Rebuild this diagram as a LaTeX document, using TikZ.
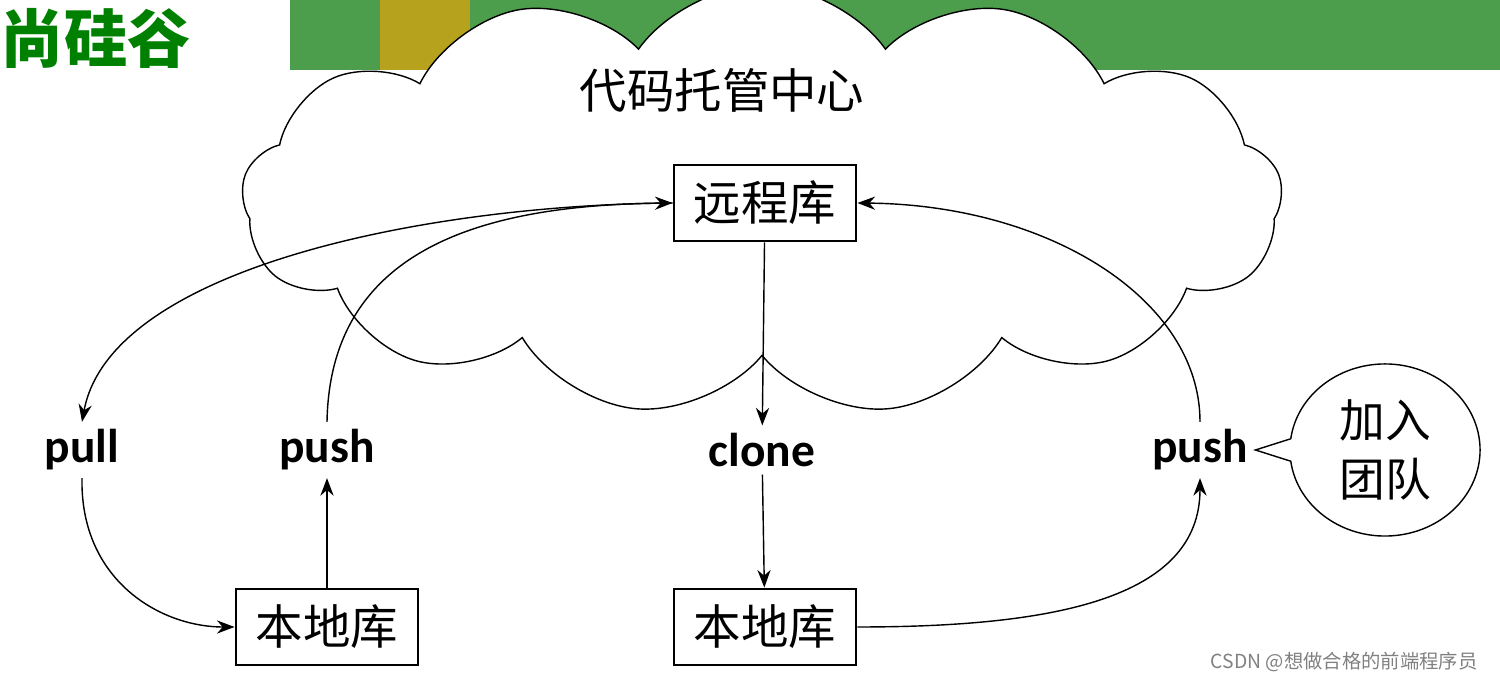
\documentclass[tikz,border=0pt]{standalone}
\usepackage{fontspec}
\setmainfont{Carlito}
\newfontfamily\cjk{Noto Sans CJK SC}
\usetikzlibrary{shapes, shapes.symbols, shapes.callouts, arrows.meta, positioning}

\begin{document}
\begin{tikzpicture}[x=0.01cm, y=-0.01cm,
    repo/.style={rectangle, draw, thick, fill=white, minimum width=1.82cm, minimum height=0.76cm, font=\cjk\fontsize{13.5}{15}\selectfont},
    verb/.style={font=\bfseries\fontsize{13.5}{15}\selectfont, inner sep=2pt},
    flow/.style={-{Stealth[length=5pt]}, thin}
 ]
\useasboundingbox (0,0) rectangle (1500,683);
% banner
\fill[green!45!black!70] (290,0) rectangle (1500,70);
\fill[orange!70!yellow, opacity=0.6] (380,0) rectangle (470,70);
\node[font=\cjk\bfseries\fontsize{18}{20}\selectfont, text=green!50!black, anchor=west, inner sep=0pt] (Logo) at (0,38) {尚硅谷};

% cloud
\node[cloud, draw, fill=white, cloud puffs=13, cloud puff arc=110, aspect=2.4, minimum width=10.4cm, minimum height=4.3cm, inner sep=0pt] (Cloud) at (762,200) {};
\node[font=\cjk\fontsize{13.5}{15}\selectfont] (Center) at (722,90) {代码托管中心};

\node[repo] (Remote) at (765,203) {远程库};
\node[repo] (LocalA) at (327,627) {本地库};
\node[repo] (LocalB) at (765,627) {本地库};

\node[verb] (Pull) at (82,450) {pull};
\node[verb] (PushA) at (327,450) {push};
\node[verb] (Clone) at (762,450) {clone};
\node[verb] (PushB) at (1200,450) {push};

\node[ellipse callout, draw, fill=white, minimum width=1.9cm, minimum height=1.72cm, inner sep=0pt, align=center, callout absolute pointer={(PushB.east)}, font=\cjk\fontsize{13}{17}\selectfont] (Join) at (1385,450) {加入\\团队};

\draw[flow] (Remote.west) .. controls (420,205) and (110,270) .. (Pull.north);
\draw[flow] (PushA.north) .. controls (330,250) and (480,205) .. (Remote.west);
\draw[flow] (PushB.north) .. controls (1200,300) and (1050,205) .. (Remote.east);
\draw[flow] (Remote) -- (Clone);
\draw[flow] (Clone) -- (LocalB);
\draw[flow] (LocalA) -- (PushA);
\draw[flow] (Pull.south) .. controls (80,580) and (160,627) .. (LocalA.west);
\draw[flow] (LocalB.east) .. controls (1050,627) and (1200,600) .. (PushB.south);

\node[font=\cjk\fontsize{5.5}{6}\selectfont, text=gray, anchor=east] (Mark) at (1490,662) {CSDN @想做合格的前端程序员};
\end{tikzpicture}
\end{document}
